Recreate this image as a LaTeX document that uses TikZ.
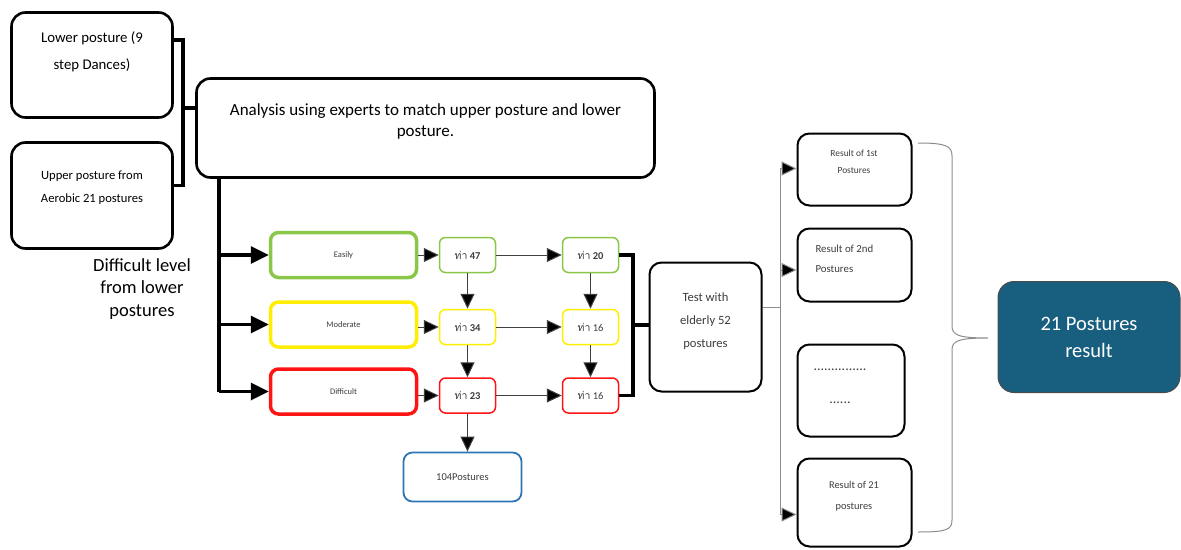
\documentclass[tikz,border=0pt]{standalone}
\usepackage{fontspec}
\setmainfont{Carlito}
\newfontfamily\thaifont[Script=Thai]{Loma}
\usetikzlibrary{arrows.meta}

\definecolor{easyGreen}{RGB}{138,198,72}
\definecolor{modYellow}{RGB}{255,238,0}
\definecolor{hardRed}{RGB}{255,20,20}
\definecolor{hundredBlue}{RGB}{46,117,182}
\definecolor{resultTeal}{RGB}{24,94,126}
\definecolor{textGray}{RGB}{60,60,60}

\tikzset{
  bigbox/.style={draw, line width=2.6pt, rounded corners=14pt},
  levelbox/.style={draw, line width=3.5pt, rounded corners=8pt, minimum width=146pt, minimum height=45pt,
    text=textGray, font=\fontsize{8.5}{10}\selectfont},
  countbox/.style={draw, line width=1.5pt, rounded corners=6pt, minimum width=56pt, minimum height=35pt,
    text=textGray, font=\fontsize{10.5}{12}\selectfont},
  resbox/.style={draw, line width=2pt, rounded corners=12pt},
  thickarrow/.style={line width=3.4pt, -{Triangle[length=18pt,width=17pt]}},
  thickline/.style={line width=3.4pt},
  thinarrow/.style={line width=1pt, draw=black!75, -{Triangle[length=15pt,width=14pt,fill=black]}},
  treeline/.style={line width=1pt, draw=black!45},
  treearrow/.style={treeline, -{Triangle[length=15pt,width=14pt,fill=black]}},
}

\newcommand\tha{{\thaifont ท่า}}

\begin{document}
\begin{tikzpicture}[x=1pt, y=-1pt]
  \useasboundingbox (0,0) rectangle (1181,549);

  % inputs on the left
  \node [bigbox, minimum width=161pt, minimum height=105pt] (lower) at (92,65) {};
  \node [align=center, font=\fontsize{14.8}{27}\selectfont] (lowerText) at (92,52) {Lower posture (9\\step Dances)};
  \node [bigbox, minimum width=161pt, minimum height=106pt] (upper) at (92,195.5) {};
  \node [align=center, font=\fontsize{12.6}{23}\selectfont] (upperText) at (92,188) {Upper posture from\\Aerobic 21 postures};

  % experts analysis
  \node [bigbox, minimum width=458pt, minimum height=99pt] (analysis) at (425.5,128) {};
  \node [align=center, font=\fontsize{17}{21}\selectfont] (analysisText) at (425.5,121) {Analysis using experts to match upper posture and lower\\posture.};

  \coordinate (joinL) at (183,108);
  \draw [thickline] ([yshift=25pt]lower.east) -| (joinL) |- ([yshift=10pt]upper.east);
  \draw [thickline] (joinL) -- (analysis.west |- joinL);

  \node [align=center, font=\fontsize{18.5}{22.5}\selectfont] (levelText) at (142,289) {Difficult level\\from lower\\postures};

  % difficulty levels
  \node [levelbox, draw=easyGreen] (easily) at (343.5,255) {Easily};
  \node [levelbox, draw=modYellow] (moderate) at (343.5,324.5) {Moderate};
  \node [levelbox, draw=hardRed] (difficult) at (343.5,391.5) {Difficult};

  \coordinate (trunk) at (219,178);
  \draw [thickline] (trunk) -- (trunk |- difficult.west);
  \draw [thickarrow] (trunk |- easily.west) -- (easily.west);
  \draw [thickarrow] (trunk |- moderate.west) -- (moderate.west);
  \draw [thickarrow] (trunk |- difficult.west) -- (difficult.west);

  % posture counts
  \node [countbox, draw=easyGreen] (c47) at (467.5,255) {\tha\ \textbf{47}};
  \node [countbox, draw=modYellow] (c34) at (467.5,327) {\tha\ \textbf{34}};
  \node [countbox, draw=hardRed] (c23) at (467.5,395.5) {\tha\ \textbf{23}};
  \node [countbox, draw=easyGreen] (c20) at (590.5,255) {\tha\ \textbf{20}};
  \node [countbox, draw=modYellow] (c16a) at (590.5,327) {\tha\ 16};
  \node [countbox, draw=hardRed] (c16b) at (590.5,395.5) {\tha\ 16};

  \draw [thinarrow] (easily) -- (c47);
  \draw [thinarrow] (moderate.east |- c34) -- (c34);
  \draw [thinarrow] (difficult.east |- c23) -- (c23);
  \draw [thinarrow] (c47) -- (c20);
  \draw [thinarrow] (c34) -- (c16a);
  \draw [thinarrow] (c23) -- (c16b);
  \draw [thinarrow] (c47) -- (c34);
  \draw [thinarrow] (c34) -- (c23);
  \draw [thinarrow] (c20) -- (c16a);
  \draw [thinarrow] (c16a) -- (c16b);

  \node [draw=hundredBlue, line width=1.8pt, rounded corners=9pt, minimum width=118pt, minimum height=49pt,
    text=textGray, font=\fontsize{10.5}{12}\selectfont] (hundred) at (462.5,477) {104Postures};
  \draw [thinarrow] (c23) -- (c23 |- hundred.north);

  % test with elderly
  \node [resbox, minimum width=112pt, minimum height=129pt] (test) at (705.5,327) {};
  \node [align=center, text=textGray, font=\fontsize{12.6}{23}\selectfont] (testText) at (705.5,321) {Test with\\elderly 52\\postures};

  \coordinate (joinR) at (633,325);
  \draw [thickline] (c20.east) -| (joinR) |- (c16b.east);
  \draw [thickline] (joinR) -- (test.west |- joinR);

  % results
  \node [resbox, minimum width=114pt, minimum height=72pt] (r1) at (854.5,169.5) {};
  \node [align=center, text=textGray, font=\fontsize{9.4}{17}\selectfont] (r1Text) at (854,162) {Result of 1st\\Postures};
  \node [resbox, minimum width=114pt, minimum height=73pt] (r2) at (854.5,265) {};
  \node [anchor=west, align=left, text=textGray, font=\fontsize{10.8}{20}\selectfont] (r2Text) at (812,259) {Result of 2nd\\Postures};
  \node [resbox, minimum width=107pt, minimum height=92pt] (r3) at (851,390.5) {};
  \node [align=center, text=textGray, font=\fontsize{14}{33}\selectfont] (r3Text) at (840,386) {...............\\......};
  \node [resbox, minimum width=114pt, minimum height=88pt] (r4) at (854.5,502.5) {};
  \node [align=center, text=textGray, font=\fontsize{10.4}{21}\selectfont] (r4Text) at (854,496) {Result of 21\\postures};

  \coordinate (split) at (780,307);
  \draw [treeline] (test.east |- split) -- (split);
  \draw [treearrow] (split) |- ([yshift=1pt]r1.west);
  \draw [treearrow] (split) |- ([yshift=-5pt]r2.west);
  \draw [treearrow] (split) |- ([yshift=-12pt]r4.west);

  % brace to the final result
  \draw [treeline] (918,143) .. controls (946,143) and (952,146) .. (952,156) -- (952,326)
    .. controls (952,335) and (958,338) .. (988,338)
    .. controls (958,338) and (952,341) .. (952,350) -- (952,520)
    .. controls (952,530) and (946,532) .. (918,532);

  \node [draw=black!70, line width=1pt, fill=resultTeal, rounded corners=16pt, minimum width=182pt,
    minimum height=111pt, text=white, align=center, font=\fontsize{20.5}{27}\selectfont] (final) at (1089,337)
    {21 Postures\\result};
\end{tikzpicture}
\end{document}
